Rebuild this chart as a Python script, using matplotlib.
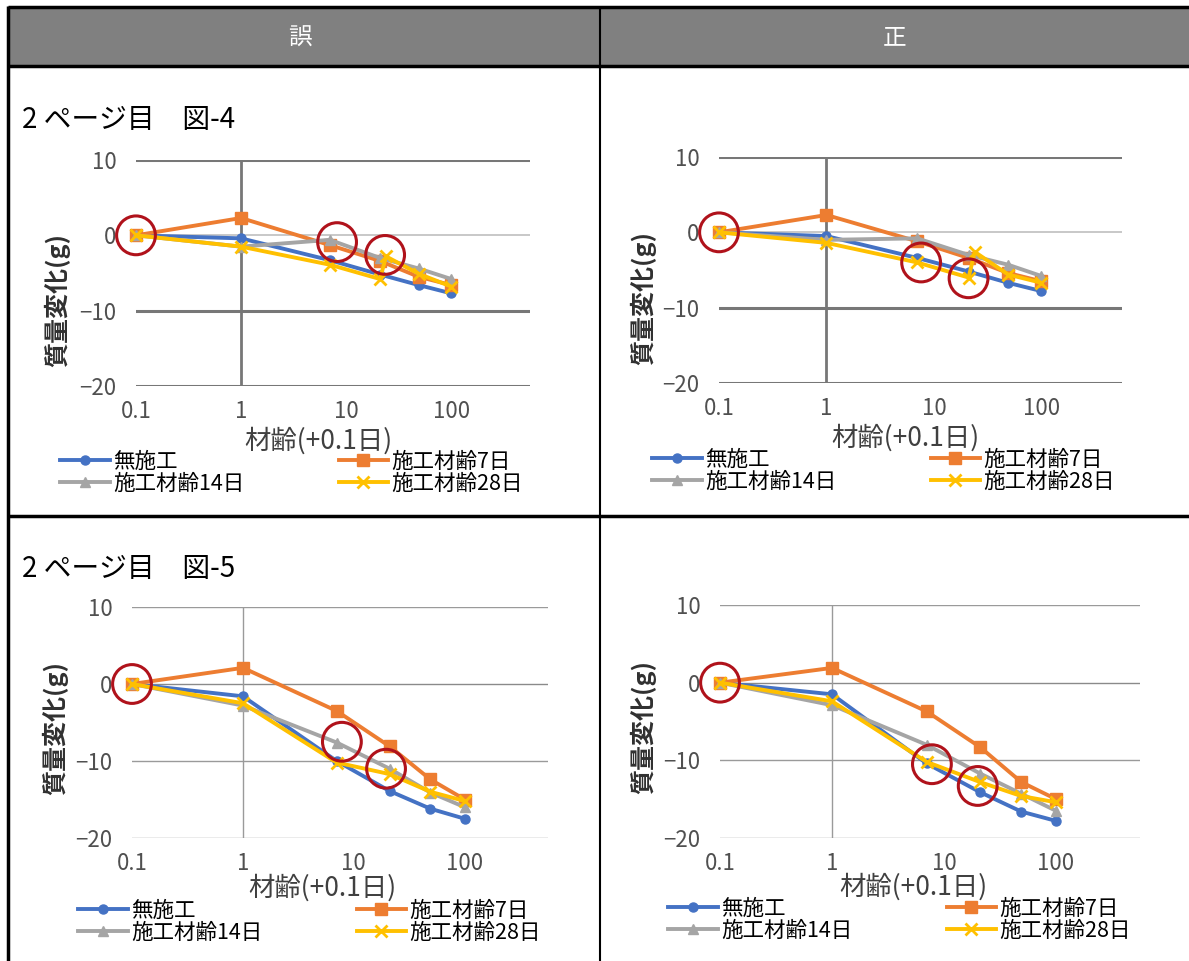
import matplotlib
matplotlib.use("Agg")
import matplotlib.pyplot as plt
from matplotlib.lines import Line2D
from matplotlib.patches import Rectangle

plt.rcParams['font.family'] = ['Noto Sans CJK JP', 'DejaVu Sans']

W, H = 1189, 961

# material age (+0.1 day)
age = [0.1, 1, 7, 21, 49, 100]
age_28 = [0.1, 1, 7, 21, 24, 49, 100]

series_names = ['無施工', '施工材齢7日', '施工材齢14日', '施工材齢28日']
header_labels = ['誤', '正']
panel_titles = ['2 ページ目　図-4', '2 ページ目　図-5']
x_ticks = [0.1, 1, 10, 100]
x_tick_labels = ['0.1', '1', '10', '100']
y_ticks = [-20, -10, 0, 10]

# Fig.4, wrong version
f4w_none = [0, -0.4, -3.3, -5.2, -6.6, -7.7]
f4w_d7 = [0, 2.3, -1.3, -3.4, -5.5, -6.6]
f4w_d14 = [0, -1.5, -0.6, -3.0, -4.4, -5.8]
f4w_d28 = [0, -1.5, -3.9, -5.8, -2.8, -5.1, -6.8]
f4w_marks_x = [0.1, 8.2, 23.5]
f4w_marks_y = [0, -0.9, -2.6]

# Fig.4, corrected version
f4c_none = [0, -0.5, -3.4, -5.2, -6.7, -7.8]
f4c_d7 = [0, 2.3, -1.2, -3.4, -5.4, -6.5]
f4c_d14 = [0, -1.0, -0.8, -3.0, -4.3, -5.8]
f4c_d28 = [0, -1.4, -4.0, -6.0, -2.6, -5.6, -6.7]
f4c_marks_x = [0.1, 7.6, 21]
f4c_marks_y = [0, -4.0, -6.1]

# Fig.5, wrong version
f5w_none = [0, -1.6, -10.0, -13.9, -16.2, -17.5]
f5w_d7 = [0, 2.1, -3.5, -8.1, -12.4, -15.0]
f5w_d14 = [0, -2.8, -7.6, -11.0, -14.1, -16.0]
f5w_d28 = [0, -2.5, -10.2, -11.7, -14.0, -15.2]
f5w_marks_x = [0.1, 7.8, 19.5]
f5w_marks_y = [0, -7.5, -11.0]

# Fig.5, corrected version
f5c_none = [0, -1.5, -10.4, -14.1, -16.6, -17.8]
f5c_d7 = [0, 1.9, -3.7, -8.3, -12.8, -15.0]
f5c_d14 = [0, -2.9, -8.0, -11.7, -14.3, -16.5]
f5c_d28 = [0, -2.4, -10.2, -12.8, -14.6, -15.4]
f5c_marks_x = [0.1, 7.8, 20]
f5c_marks_y = [0, -10.5, -13.3]

colors = ['#4472C4', '#ED7D31', '#A5A5A5', '#FFC000']
markers = ['o', 's', '^', 'x']
msizes = [6.5, 8, 7, 8]

fig = plt.figure(figsize=(W / 100, H / 100), dpi=100)


def fx(px):
    return px / W


def fy(py):
    return 1 - py / H


def add_line(x0, y0, x1, y1, lw=2.5, color='black'):
    fig.add_artist(Line2D([fx(x0), fx(x1)], [fy(y0), fy(y1)], lw=lw, color=color,
                          transform=fig.transFigure, solid_capstyle='butt'))


# table frame
fig.add_artist(Rectangle((fx(8), fy(66)), fx(1189) - fx(8), fy(7) - fy(66),
                         transform=fig.transFigure, facecolor='#808080', edgecolor='none'))
add_line(8, 7, 1189, 7, lw=2.5)
add_line(8, 66, 1189, 66, lw=2.5)
add_line(8, 516, 1189, 516, lw=2.5)
add_line(8, 6, 8, 961, lw=2.5)
add_line(600, 6, 600, 961, lw=1.5)
fig.text(fx(300), fy(38), header_labels[0], color='white', fontsize=17, ha='center', va='center')
fig.text(fx(895), fy(38), header_labels[1], color='white', fontsize=17, ha='center', va='center')
fig.text(fx(22), fy(120), panel_titles[0], fontsize=20, ha='left', va='center')
fig.text(fx(22), fy(569), panel_titles[1], fontsize=20, ha='left', va='center')


def draw_chart(box, data, marks, heavy, ylab_pos, xlab_pos, leg_pos):
    l, r, t, b = box
    ax = fig.add_axes([fx(l), fy(b), fx(r) - fx(l), fy(t) - fy(b)])
    ax.set_xscale('log')
    ax.set_xlim(0.1, 10 ** 2.75)
    ax.set_ylim(-20, 10)
    for s in ax.spines.values():
        s.set_visible(False)

    if heavy:
        grid_c, grid_w, zero_c, zero_w, vline_w = '#777777', 2.2, '#c8c8c8', 1.4, 2.0
    else:
        grid_c, grid_w, zero_c, zero_w, vline_w = '#9a9a9a', 1.0, '#8a8a8a', 1.0, 1.0
    for yv in y_ticks:
        if yv == 0:
            ax.axhline(yv, color=zero_c, lw=zero_w, zorder=1)
        else:
            ax.axhline(yv, color=grid_c, lw=grid_w, zorder=1)
    ax.axvline(1, color=grid_c, lw=vline_w, zorder=1)

    handles = []
    for i, (xs, ys) in enumerate(data):
        h, = ax.plot(xs, ys, color=colors[i], lw=2.8, marker=markers[i], ms=msizes[i],
                     mew=2.0 if markers[i] == 'x' else 1, zorder=3, clip_on=False)
        handles.append(h)

    ax.scatter(marks[0], marks[1], s=780, facecolors='none', edgecolors='#B0121B',
               linewidths=2.2, zorder=5, clip_on=False)

    ax.set_xticks(x_ticks)
    ax.set_xticklabels(x_tick_labels)
    ax.xaxis.set_minor_locator(matplotlib.ticker.NullLocator())
    ax.set_yticks(y_ticks)
    ax.tick_params(length=0, labelsize=16, labelcolor='#505050')
    ax.tick_params(axis='x', pad=10)
    ax.tick_params(axis='y', pad=14)

    fig.text(fx(ylab_pos[0]), fy(ylab_pos[1]), '質量変化(g)', rotation=90, fontsize=18,
             fontweight='bold', ha='center', va='center', color='#303030')
    fig.text(fx(xlab_pos[0]), fy(xlab_pos[1]), '材齢(+0.1日)', fontsize=19,
             ha='center', va='center', color='#404040')

    # legend: two rows, two columns
    order = [0, 2, 1, 3]
    fig.legend([handles[i] for i in order], [series_names[i] for i in order],
               loc='upper left', bbox_to_anchor=(fx(leg_pos[0]), fy(leg_pos[1])),
               bbox_transform=fig.transFigure, ncol=2, frameon=False, fontsize=15.5,
               handlelength=2.3, handletextpad=0.15, columnspacing=4.4,
               labelspacing=0.0, borderpad=0, borderaxespad=0)
    return ax


draw_chart((136, 530, 160, 386),
           [(age, f4w_none), (age, f4w_d7), (age, f4w_d14), (age_28, f4w_d28)],
           (f4w_marks_x, f4w_marks_y), True, (57, 300), (318, 441), (60, 451))
draw_chart((719, 1122, 157, 383),
           [(age, f4c_none), (age, f4c_d7), (age, f4c_d14), (age_28, f4c_d28)],
           (f4c_marks_x, f4c_marks_y), True, (643, 298), (905, 438), (652, 449))
draw_chart((132, 548, 607, 838),
           [(age, f5w_none), (age, f5w_d7), (age, f5w_d14), (age, f5w_d28)],
           (f5w_marks_x, f5w_marks_y), False, (55, 728), (322, 888), (78, 900))
draw_chart((720, 1140, 605, 838),
           [(age, f5c_none), (age, f5c_d7), (age, f5c_d14), (age, f5c_d28)],
           (f5c_marks_x, f5c_marks_y), False, (643, 727), (913, 887), (668, 898))

fig.savefig('out.png', dpi=100)
